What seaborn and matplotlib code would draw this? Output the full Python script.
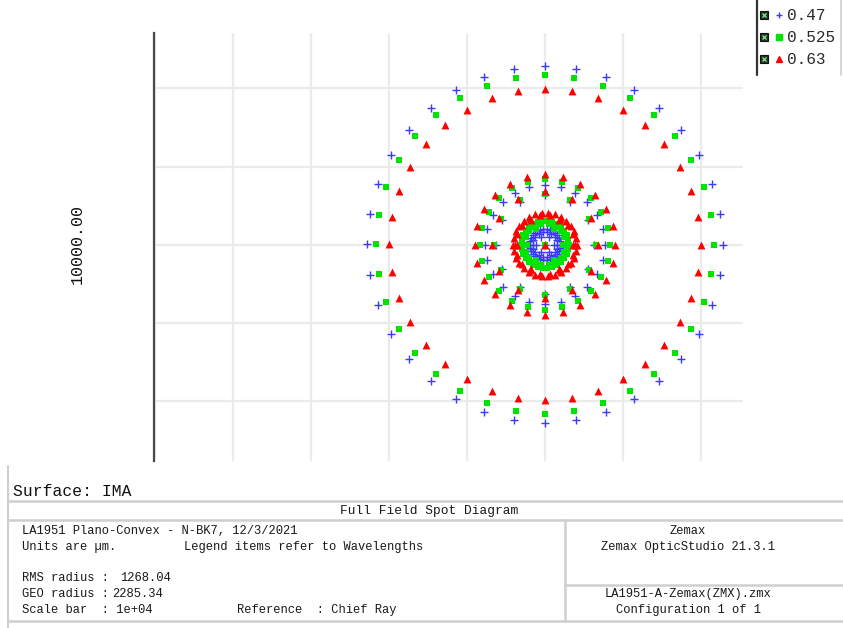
#!/usr/bin/env python3
"""Full field spot diagram (Zemax style) for the LA1951 plano-convex lens."""

import matplotlib
matplotlib.use("Agg")

import matplotlib.pyplot as plt
import numpy as np
import pandas as pd
import seaborn as sns

# ── Data ───────────────────────────────────────────────────────────────

WAVELENGTHS = ["0.47", "0.525", "0.63"]

# hexapolar rings: number of rays per ring, centre first
RING_POINTS = [1, 6, 12, 18, 24, 30, 36]

# landing radius of each ring on the image (µm), per wavelength
RADIUS_047 = [0, 210, 1150, 290, 1400, 360, 4160]
RADIUS_0525 = [0, 410, 1190, 480, 1520, 550, 3950]
RADIUS_063 = [0, 650, 1240, 700, 1640, 750, 3640]

SCALE_BAR = 10000.0
RMS_RADIUS = 1268.04
GEO_RADIUS = 2285.34

COLORS = {"0.47": "#3b3bff", "0.525": "#00e400", "0.63": "#ff0000"}
MARKERS = {"0.47": "+", "0.525": "s", "0.63": "^"}
SIZES = {"0.47": 36, "0.525": 24, "0.63": 32}

W, H = 843, 628
UM_PER_PX = SCALE_BAR / 428.0
MONO = ["Liberation Mono", "DejaVu Sans Mono"]


def ring_points(radii):
    frames = []
    for n, r in zip(RING_POINTS, radii):
        ang = np.deg2rad(np.arange(n) * 360.0 / n)
        frames.append(pd.DataFrame({"x": r * np.cos(ang), "y": r * np.sin(ang)}))
    return pd.concat(frames, ignore_index=True)


def build_spots():
    parts = []
    for wl, radii in zip(WAVELENGTHS, [RADIUS_047, RADIUS_0525, RADIUS_063]):
        df = ring_points(radii)
        df["wavelength"] = wl
        parts.append(df)
    return pd.concat(parts, ignore_index=True)


def fig_px(x, y):
    return x / W, 1 - y / H


# ── Plot ───────────────────────────────────────────────────────────────

def main():
    sns.set_style("white")
    plt.rcParams["font.family"] = MONO

    spots = build_spots()

    fig = plt.figure(figsize=(W / 100, H / 100), dpi=100)
    fig.patch.set_facecolor("white")

    # background layer in pixel coordinates for frames and texts
    bg = fig.add_axes([0, 0, 1, 1], zorder=0)
    bg.set_xlim(0, W)
    bg.set_ylim(H, 0)
    bg.axis("off")

    # spot plot, centre of the spots at pixel (545, 244.5)
    left, right, top, bottom = 154, 743, 33, 461
    cx, cy = 545, 244.5
    ax = fig.add_axes([left / W, 1 - bottom / H, (right - left) / W, (bottom - top) / H], zorder=2)
    ax.set_facecolor("none")
    ax.set_xlim((left - cx) * UM_PER_PX, (right - cx) * UM_PER_PX)
    ax.set_ylim((cy - bottom) * UM_PER_PX, (cy - top) * UM_PER_PX)

    grid_step = 78 * UM_PER_PX
    ax.set_xticks(np.arange(-5, 3) * grid_step)
    ax.set_yticks(np.arange(-2, 3) * grid_step)
    ax.grid(True, color="#ebebeb", linewidth=1.6)
    ax.set_axisbelow(True)
    ax.tick_params(length=0, labelbottom=False, labelleft=False)
    for side in ["top", "right", "bottom"]:
        ax.spines[side].set_visible(False)
    ax.spines["left"].set_color("#4a4a4a")
    ax.spines["left"].set_linewidth(1.6)

    for wl in WAVELENGTHS:
        sub = spots[spots["wavelength"] == wl]
        kw = dict(linewidth=1.0) if MARKERS[wl] == "+" else dict(linewidth=0)
        sns.scatterplot(data=sub, x="x", y="y", marker=MARKERS[wl], color=COLORS[wl],
                        s=SIZES[wl], ax=ax, legend=False, **kw)
    ax.set_xlabel("")
    ax.set_ylabel("")

    # scale bar label
    fig.text(*fig_px(77, 244), f"{SCALE_BAR:.2f}", rotation=90, ha="center", va="center",
             fontsize=12, color="#111111", family=MONO)

    # legend box (top right)
    bg.plot([757, 757], [0, 75], color="#333333", lw=1.6)
    bg.plot([841, 841], [0, 75], color="#d0d0d0", lw=1.2)
    for i, wl in enumerate(WAVELENGTHS):
        y = 15 + i * 22
        bg.plot(764, y, marker="s", ms=6, mfc="#1f3a24", mec="#111111", mew=0.8)
        bg.plot(764, y, marker="x", ms=3, mec="#8fe08f", mew=0.9)
        bg.plot(779, y, marker=MARKERS[wl], ms=5 if wl != "0.525" else 4.5,
                color=COLORS[wl], mec=COLORS[wl], mew=1.0, lw=0)
        bg.text(787, y, wl, ha="left", va="center", fontsize=11.6, color="#2a2a2a", family=MONO)

    # footer
    gray = "#cfcfcf"
    bg.plot([8, 8], [466, 628], color=gray, lw=1.5)
    bg.text(13, 492, "Surface: IMA", ha="left", va="center", fontsize=11.8, color="#111111", family=MONO)
    bg.plot([8, 843], [501, 501], color=gray, lw=1.8)
    bg.plot([8, 843], [520, 520], color=gray, lw=1.8)
    bg.plot([8, 843], [621, 621], color=gray, lw=1.8)
    bg.plot([565, 565], [520, 621], color=gray, lw=1.8)
    bg.plot([565, 843], [585, 585], color=gray, lw=1.8)

    fs = 8.7
    tc = "#1a1a1a"
    bg.text(429, 511, "Full Field Spot Diagram", ha="center", va="center", fontsize=9.3, color=tc)
    bg.text(22, 531, "LA1951 Plano-Convex - N-BK7, 12/3/2021", ha="left", va="center", fontsize=fs, color=tc)
    bg.text(22, 547, "Units are µm.", ha="left", va="center", fontsize=fs, color=tc)
    bg.text(184, 547, "Legend items refer to Wavelengths", ha="left", va="center", fontsize=fs, color=tc)
    bg.text(22, 578, "RMS radius :", ha="left", va="center", fontsize=fs, color=tc)
    bg.text(120, 578, f"{RMS_RADIUS:.2f}", ha="left", va="center", fontsize=fs, color=tc)
    bg.text(22, 594, "GEO radius :", ha="left", va="center", fontsize=fs, color=tc)
    bg.text(112, 594, f"{GEO_RADIUS:.2f}", ha="left", va="center", fontsize=fs, color=tc)
    bg.text(22, 610, "Scale bar  : 1e+04", ha="left", va="center", fontsize=fs, color=tc)
    bg.text(237, 610, "Reference  : Chief Ray", ha="left", va="center", fontsize=fs, color=tc)

    bg.text(688, 531, "Zemax", ha="center", va="center", fontsize=fs, color=tc)
    bg.text(688, 547, "Zemax OpticStudio 21.3.1", ha="center", va="center", fontsize=fs, color=tc)
    bg.text(688, 594, "LA1951-A-Zemax(ZMX).zmx", ha="center", va="center", fontsize=fs, color=tc)
    bg.text(688, 610, "Configuration 1 of 1", ha="center", va="center", fontsize=fs, color=tc)

    fig.savefig("out.png", dpi=100, facecolor="white")


if __name__ == "__main__":
    main()
